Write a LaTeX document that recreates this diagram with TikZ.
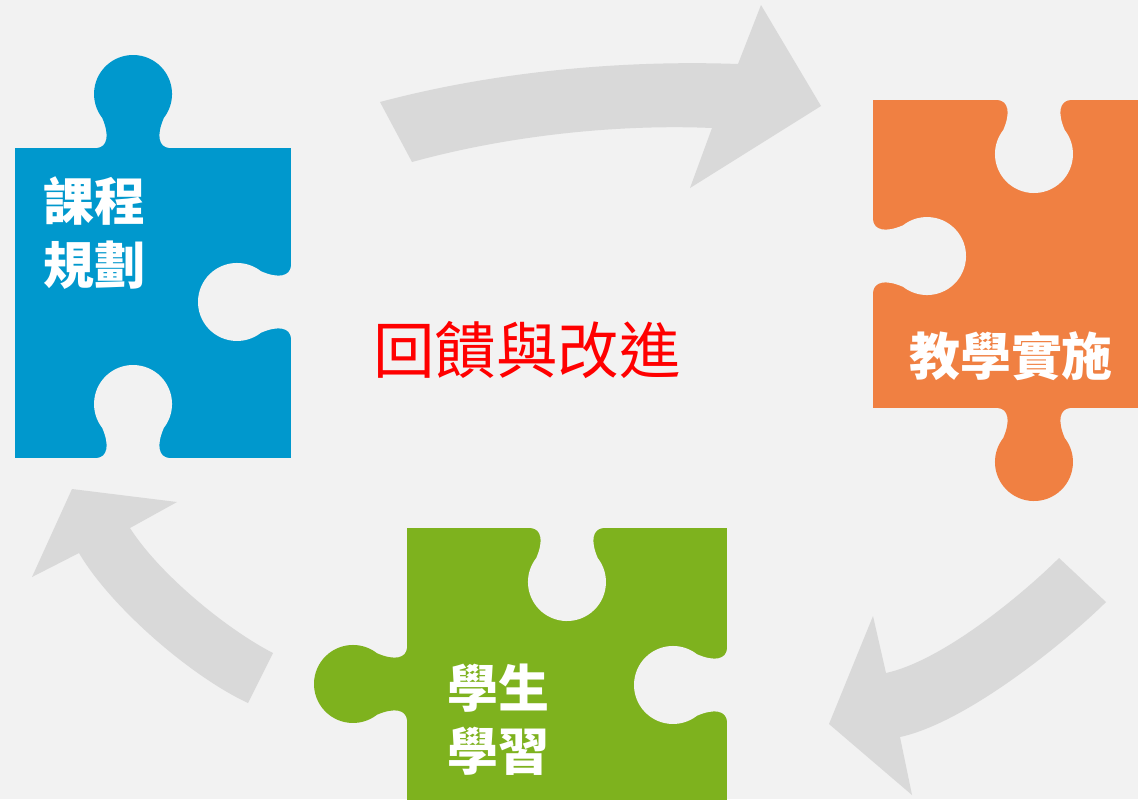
\documentclass[tikz,border=0pt]{standalone}
\usepackage{fontspec}
\newfontfamily\cjk{Noto Sans CJK TC}
\usepackage{xcolor}
\usepackage{tikz}
\usetikzlibrary{positioning}

\definecolor{bgGray}{RGB}{242,242,242}
\definecolor{arrowGray}{RGB}{217,217,217}
\definecolor{puzzleBlue}{RGB}{0,152,205}
\definecolor{puzzleOrange}{RGB}{240,128,66}
\definecolor{puzzleGreen}{RGB}{126,178,30}
\definecolor{loopRed}{RGB}{255,0,0}

\begin{document}
\begin{tikzpicture}[x=0.02cm, y=-0.02cm,
    cyclearrow/.style={fill=arrowGray},
    stepname/.style={text=white, align=left, font=\cjk\bfseries\fontsize{29}{36}\selectfont},
    knob/.pic={
        \path[pic actions] (-36,2) -- (-36,0)
            .. controls (-26,-1) and (-23,-12) .. (-30.7,-30)
            arc[start angle=142, end angle=398, radius=39]
            .. controls (23,-12) and (26,-1) .. (36,0) -- (36,2) -- cycle;
    }
]
    \fill[bgGray] (0,0) rectangle (1138,799);
    \useasboundingbox (0,0) rectangle (1138,799);
    \clip (0,0) rectangle (1138,799);

    % the three curved arrows
    \fill[cyclearrow] (380,102) .. controls (500,70) and (630,60) .. (738,64)
        -- (761,5) -- (821,106) -- (690,188) -- (712,128)
        .. controls (620,124) and (510,135) .. (412,162) -- cycle;
    \fill[cyclearrow] (1059,558) .. controls (1027,590) and (945,660) .. (886,673)
        -- (873,616) -- (829,724) -- (912,795) -- (900,737)
        .. controls (969,722) and (1071,637) .. (1106,602) -- cycle;
    \fill[cyclearrow] (273,653) .. controls (228,630) and (160,575) .. (130,528)
        -- (177,502) -- (72,489) -- (32,577) -- (79,553)
        .. controls (110,606) and (190,676) .. (248,703) -- cycle;

    % puzzle pieces
    \fill[puzzleBlue] (15,148) rectangle (291,458);
    \pic[fill=puzzleBlue] at (133,148) {knob};
    \pic[fill=bgGray, rotate=90] at (291,302) {knob};
    \pic[fill=bgGray] at (133,458) {knob};

    \fill[puzzleOrange] (873,100) rectangle (1140,408);
    \pic[fill=bgGray, rotate=180] at (1034,100) {knob};
    \pic[fill=bgGray, rotate=-90] at (873,256) {knob};
    \pic[fill=puzzleOrange, rotate=180] at (1034,408) {knob};

    \fill[puzzleGreen] (407,528) rectangle (727,801);
    \pic[fill=bgGray, rotate=180] at (567,528) {knob};
    \pic[fill=puzzleGreen, rotate=90] at (407,684) {knob};
    \pic[fill=bgGray, rotate=90] at (727,685) {knob};

    % labels
    \node[stepname] (plan) at (94,233) {課程\\規劃};
    \node[stepname] (teach) at (1011,356) {教學實施};
    \node[stepname] (learn) at (498,720) {學生\\學習};
    \node[text=loopRed, font=\cjk\fontsize{35}{42}\selectfont] (loop) at (527,350) {回饋與改進};
\end{tikzpicture}
\end{document}
